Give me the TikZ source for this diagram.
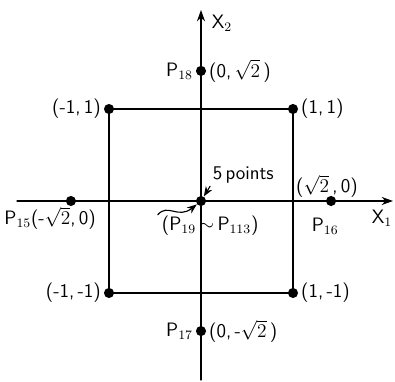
\documentclass[tikz,border=0pt]{standalone}
\usepackage{amsmath,amssymb}
\usepackage{tikz}
\usetikzlibrary{arrows.meta}
\tikzset{
  every picture/.style={font=\sffamily\fontsize{12}{14}\selectfont, line join=round, line cap=round, >=Stealth},
  axis/.style={line width=0.8pt},
  edge/.style={line width=1.3pt},
  dot/.style={circle, fill=black, inner sep=0pt, minimum size=0.22cm},
  lbl/.style={inner sep=1.5pt},
}

\begin{document}
\begin{tikzpicture}[x=2cm,y=2cm]
\useasboundingbox (-2.185,-1.957) rectangle (2.109,2.185);
% axes
\coordinate (xl) at (-2.0,0);
\coordinate (xr) at (2.087,0);
\coordinate (yb) at (0,-1.946);
\coordinate (yt) at (0,2.076);
\draw[axis,-{Stealth[length=7pt,width=5pt]}](xl)--(xr);
\draw[axis,-{Stealth[length=7pt,width=5pt]}](yb)--(yt);
% points
\node[dot] (c0) at (0,0) {};
\node[dot] (pa) at (-1,1) {};
\node[dot] (pb) at (1,1) {};
\node[dot] (pc) at (1,-1) {};
\node[dot] (pd) at (-1,-1) {};
\node[dot] (p15) at (-1.414,0) {};
\node[dot] (p16) at (1.414,0) {};
\node[dot] (p17) at (0,-1.414) {};
\node[dot] (p18) at (0,1.414) {};
% square
\draw[edge](pa.center)--(pb.center)--(pc.center)--(pd.center)--cycle;
% labels
\node[lbl,left] (la) at (pa.west) {(-1,\,1)};
\node[lbl,right] (lb) at (pb.east) {(1,\,1)};
\node[lbl,right] (lc) at (pc.east) {(1,\,-1)};
\node[lbl,left] (ld) at (pd.west) {(-1,\,-1)};
\node[lbl,left] (l18) at (p18.west) {P$_{18}$};
\node[lbl,right] (m18) at (p18.east) {(0,\,$\sqrt{2}$\,)};
\node[lbl,left] (l17) at (p17.west) {P$_{17}$};
\node[lbl,right] (m17) at (p17.east) {(0,\,-$\sqrt{2}$\,)};
\node[lbl] (l15) at (-1.64,-0.185) {P$_{15}$(-$\sqrt{2}$,\,0)};
\node[lbl] (m16) at (1.37,0.16) {($\sqrt{2}$\,,\,0)};
\node[lbl] (l16) at (1.35,-0.27) {P$_{16}$};
\node[lbl] (x1) at (1.967,-0.185) {X$_1$};
\node[lbl] (x2) at (0.228,1.935) {X$_2$};
\node[lbl] (pts) at (0.46,0.28) {5\,points};
\node[lbl] (grp) at (0.1,-0.27) {(P$_{19}$\,$\sim$\,P$_{113}$)};
\draw[->,line width=0.7pt](pts.south west)--(c0);
\draw[->,line width=0.7pt](-0.47,-0.15) .. controls (-0.36,-0.02) and (-0.25,-0.2) .. (c0);
\end{tikzpicture}
\end{document}
